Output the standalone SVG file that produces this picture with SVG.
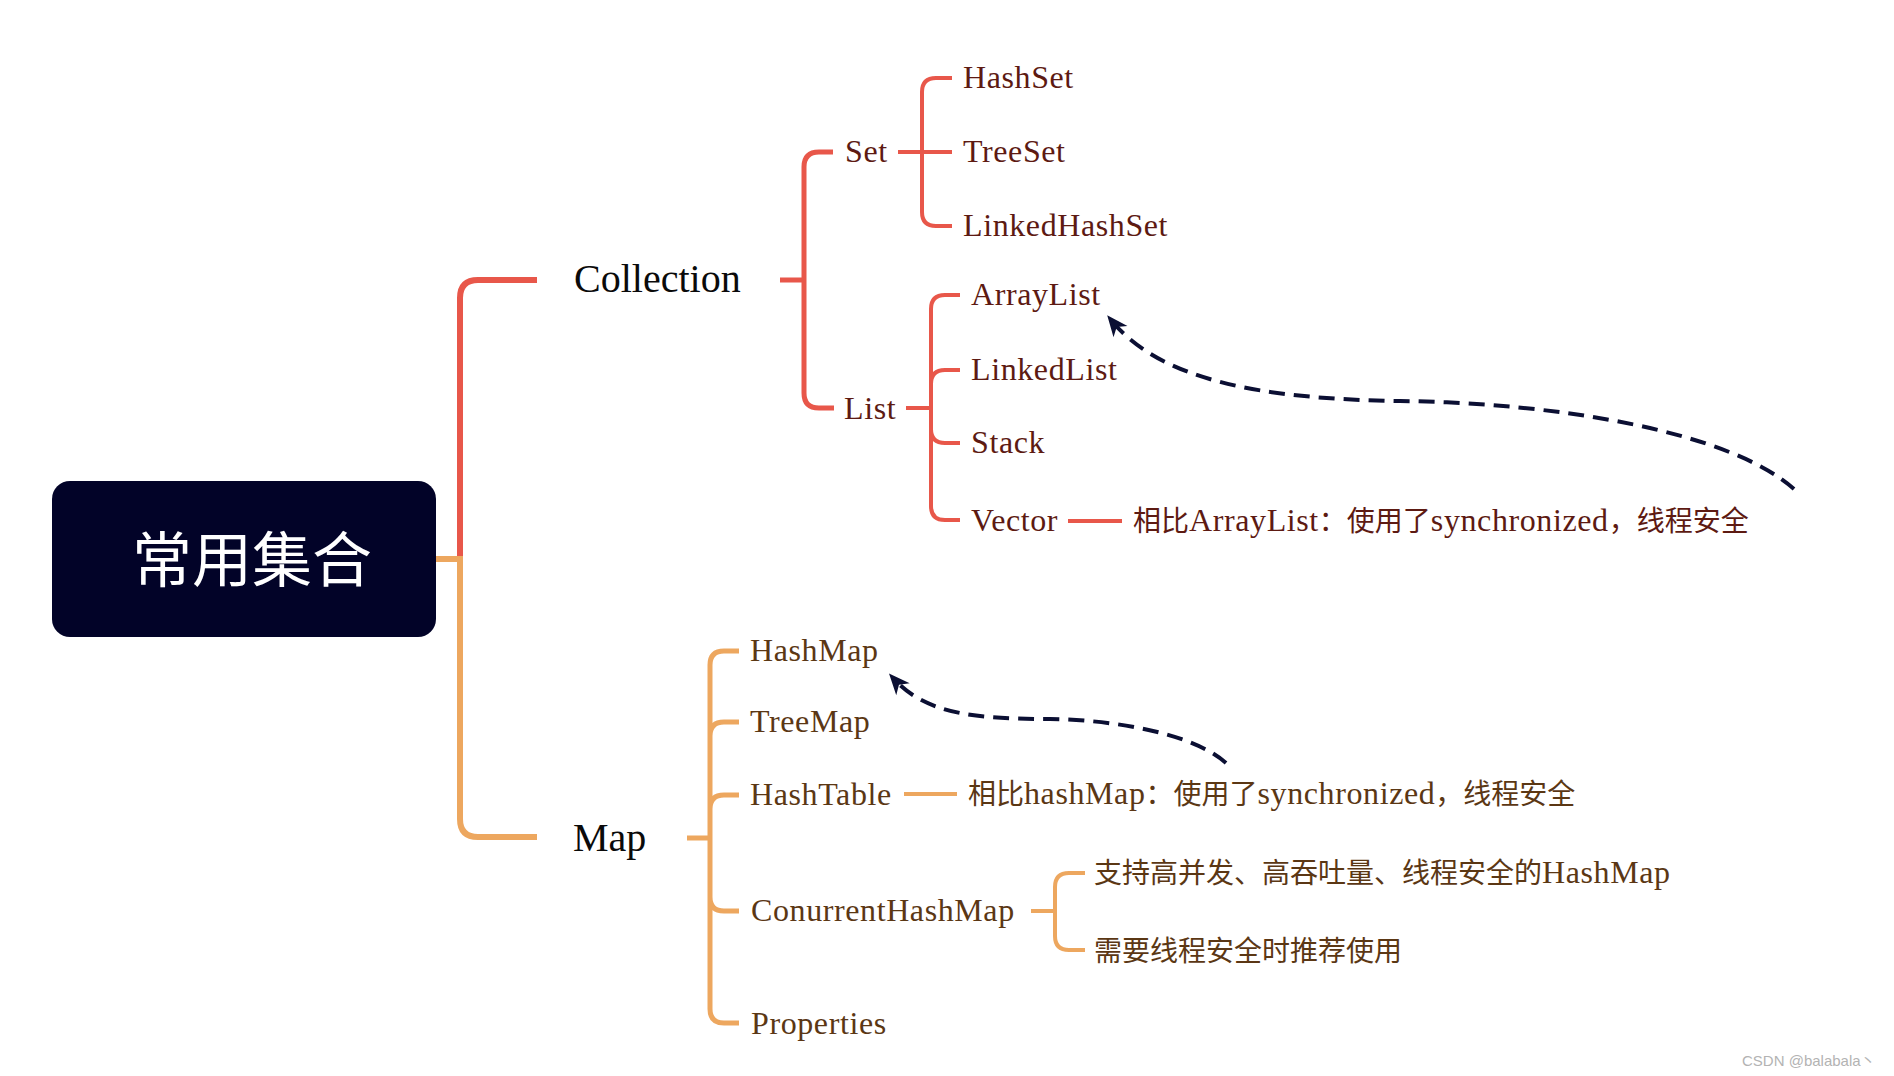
<svg xmlns="http://www.w3.org/2000/svg" width="1894" height="1076" viewBox="0 0 1894 1076">
<style>
.t{font-family:"Liberation Serif","Noto Sans CJK SC",serif;}
.l1{font-size:40px;fill:#0a0a0a;}
.l2{font-size:32px;letter-spacing:0.6px;}
.r{fill:#5d1a12;}
.o{fill:#5b3714;}
.cjk{font-family:"Noto Sans CJK SC",sans-serif;font-size:28px;letter-spacing:0;}
.red{fill:none;stroke:#e8574a;}
.org{fill:none;stroke:#eda75f;}
.w6{stroke-width:6;}
.w5{stroke-width:5;}
.w4{stroke-width:4;}
.dash{fill:none;stroke:#0b0f33;stroke-width:4;stroke-dasharray:16 9;marker-end:url(#arr);}
</style>
<defs>
<marker id="arr" markerUnits="userSpaceOnUse" viewBox="-24 -11 26 22" markerWidth="26" markerHeight="22" refX="-6" refY="0" orient="auto">
<path d="M0,0 L-21,-9 L-15,0 L-21,9 Z" fill="#0b0f33"/>
</marker>
</defs>
<rect width="1894" height="1076" fill="#ffffff"/>
<g id="connectors">
<path class="red w6" d="M460 556 V298 Q460 280 478 280 H537"/>
<path class="org w6" d="M436 559 H460 M460 556 V819 Q460 837 478 837 H537"/>
<path class="red w5" d="M780 280 H804 M804 280 V167 Q804 152 819 152 H833 M804 280 V393 Q804 408 819 408 H834"/>
<path class="red w4" d="M898 152 H952 M922 152 V92 Q922 78 936 78 H952 M922 152 V212 Q922 226 936 226 H952"/>
<path class="red w4" d="M906 408 H931 M931 408 V309 Q931 295 945 295 H960 M931 408 V384 Q931 370 945 370 H960 M931 408 V429 Q931 443 945 443 H960 M931 408 V506 Q931 520 945 520 H960"/>
<path class="red w4" d="M1068 521 H1122"/>
<path class="org w5" d="M687 838 H710 M710 838 V665 Q710 651 724 651 H739 M710 838 V736 Q710 722 724 722 H739 M710 838 V809 Q710 795 724 795 H739 M710 838 V897 Q710 911 724 911 H739 M710 838 V1009 Q710 1023 724 1023 H739"/>
<path class="org w4" d="M904 794 H957"/>
<path class="org w4" d="M1031 911 H1055 M1055 911 V887 Q1055 873 1069 873 H1085 M1055 911 V936 Q1055 950 1069 950 H1085"/>
<path class="dash" d="M1794 489 C1730 432 1560 403 1400 401 C1260 399 1160 380 1111 320"/>
<path class="dash" d="M1226 763 C1195 735 1120 720 1050 719 C975 719 925 714 893 678"/>
</g>
<g id="root">
<rect x="52" y="481" width="384" height="156" rx="18" ry="18" fill="#020328"/>
<text x="252" y="582" text-anchor="middle" font-family="Noto Sans CJK SC, sans-serif" font-size="60" fill="#ffffff">常用集合</text>
</g>
<g id="collection"><text class="t l1" x="574" y="292">Collection</text></g>
<g id="map"><text class="t l1" x="573" y="851">Map</text></g>
<g id="set"><text class="t l2 r" x="845" y="162">Set</text></g>
<g id="list"><text class="t l2 r" x="844" y="419">List</text></g>
<g id="hashset"><text class="t l2 r" x="963" y="88">HashSet</text></g>
<g id="treeset"><text class="t l2 r" x="963" y="162">TreeSet</text></g>
<g id="linkedhashset"><text class="t l2 r" x="963" y="236">LinkedHashSet</text></g>
<g id="arraylist"><text class="t l2 r" x="971" y="305">ArrayList</text></g>
<g id="linkedlist"><text class="t l2 r" x="971" y="380">LinkedList</text></g>
<g id="stack"><text class="t l2 r" x="971" y="453">Stack</text></g>
<g id="vector"><text class="t l2 r" x="971" y="531">Vector</text></g>
<g id="vector-note"><text class="t l2 r" x="1133" y="531"><tspan class="cjk">相比</tspan>ArrayList<tspan class="cjk">：使用了</tspan>synchronized<tspan class="cjk">，线程安全</tspan></text></g>
<g id="hashmap"><text class="t l2 o" x="750" y="661">HashMap</text></g>
<g id="treemap"><text class="t l2 o" x="750" y="732">TreeMap</text></g>
<g id="hashtable"><text class="t l2 o" x="750" y="805">HashTable</text></g>
<g id="hashtable-note"><text class="t l2 o" x="968" y="804"><tspan class="cjk">相比</tspan>hashMap<tspan class="cjk">：使用了</tspan>synchronized<tspan class="cjk">，线程安全</tspan></text></g>
<g id="concurrenthashmap"><text class="t l2 o" x="751" y="921">ConurrentHashMap</text></g>
<g id="chm-note1"><text class="t l2 o" x="1094" y="883"><tspan class="cjk">支持高并发、高吞吐量、线程安全的</tspan>HashMap</text></g>
<g id="chm-note2"><text class="t l2 o" x="1094" y="961"><tspan class="cjk">需要线程安全时推荐使用</tspan></text></g>
<g id="properties"><text class="t l2 o" x="751" y="1034">Properties</text></g>
<text x="1742" y="1066" font-family="Liberation Sans, Noto Sans CJK SC, sans-serif" font-size="15" fill="#b3b3b3">CSDN @balabala丶</text>
</svg>
